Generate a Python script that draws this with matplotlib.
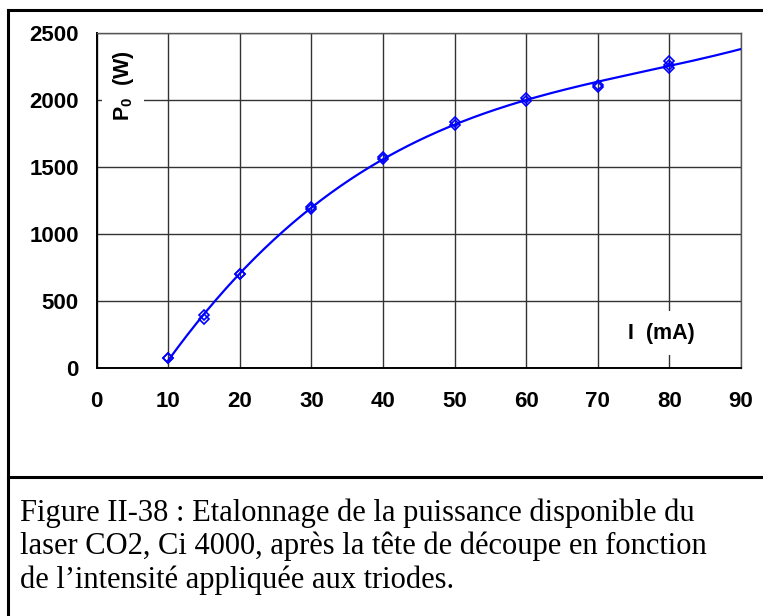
import numpy as np
import matplotlib
matplotlib.use("Agg")
import matplotlib.pyplot as plt
from matplotlib.lines import Line2D

current_mA = [10, 10, 15, 15, 20, 20, 30, 30, 40, 40, 50, 50, 60, 60, 70, 70, 80, 80, 80]
power_W = [80, 80, 398, 368, 701, 701, 1206, 1187, 1580, 1565, 1841, 1816,
           2020, 1998, 2114, 2102, 2295, 2263, 2240]
x_ticks = [0, 10, 20, 30, 40, 50, 60, 70, 80, 90]
y_ticks = [0, 500, 1000, 1500, 2000, 2500]
caption_lines = [
    "Figure II-38 : Etalonnage de la puissance disponible du",
    "laser CO2, Ci 4000, après la tête de découpe en fonction",
    "de l\u2019intensité appliquée aux triodes.",
]

plt.rcParams["mathtext.fontset"] = "custom"
plt.rcParams["mathtext.bf"] = "Liberation Sans:bold"
plt.rcParams["mathtext.rm"] = "Liberation Sans"

W, H = 763, 616
fig = plt.figure(figsize=(W / 100, H / 100), dpi=100)

def fx(px):
    return px / W

def fy(py):
    return 1 - py / H

ax = fig.add_axes([fx(96.7), fy(368.3), fx(741) - fx(96.7), fy(33.3) - fy(368.3)])

# trend curve (cubic fit of the measurements)
coef = np.polyfit(current_mA, power_W, 3)
xs = np.linspace(10, 90, 300)
ax.plot(xs, np.polyval(coef, xs), color="#0000FF", lw=1.6, zorder=3)
ax.plot(current_mA, power_W, linestyle="none", marker="D", ms=5,
        mfc="none", mec="#0000FF", mew=1.2, zorder=4)

ax.set_xlim(0, 90)
ax.set_ylim(0, 2500)
ax.set_xticks(x_ticks)
ax.set_yticks(y_ticks)
ax.grid(True, color="#333333", lw=1.0)
ax.set_axisbelow(True)
ax.tick_params(length=0)
ax.tick_params(axis="x", pad=16.5)
ax.tick_params(axis="y", pad=13)
for lab in ax.get_xticklabels() + ax.get_yticklabels():
    lab.set_fontfamily("Liberation Sans")
    lab.set_fontweight("bold")
    lab.set_fontsize(16)
for side in ["top", "right"]:
    ax.spines[side].set_color("#555555")
    ax.spines[side].set_linewidth(1.0)
for side in ["left", "bottom"]:
    ax.spines[side].set_color("black")
    ax.spines[side].set_linewidth(1.4)

ax.text(fx(123), fy(86), r"$\mathbf{P}_{\mathbf{0}}$  (W)", transform=fig.transFigure,
        rotation=90, ha="center", va="center", fontsize=15.5, fontweight="bold",
        family="Liberation Sans",
        bbox=dict(facecolor="white", edgecolor="none", pad=6), zorder=5)
ax.text(fx(661), fy(333), "I  (mA)", transform=fig.transFigure,
        ha="center", va="center", fontsize=15.5, fontweight="bold",
        family="Liberation Sans",
        bbox=dict(facecolor="white", edgecolor="none", pad=8), zorder=5)

# frame lines
lw = 2.2
fig.add_artist(Line2D([fx(8), fx(8)], [fy(10), 0], color="black", lw=lw))
fig.add_artist(Line2D([fx(8), 1], [fy(10), fy(10)], color="black", lw=lw))
fig.add_artist(Line2D([fx(8), 1], [fy(477), fy(477)], color="black", lw=lw))

for i, line in enumerate(caption_lines):
    fig.text(fx(20), fy(521 + i * 33.3), line, ha="left", va="baseline",
             fontsize=22, family="Liberation Serif")

fig.savefig("out.png", dpi=100)
